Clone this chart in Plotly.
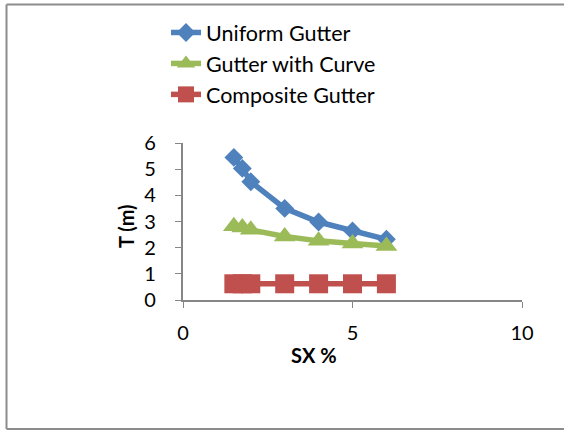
import plotly.graph_objects as go

sx = [1.5, 1.75, 2, 3, 4, 5, 6]
uniform = [5.45, 5.03, 4.52, 3.50, 2.98, 2.64, 2.32]
curve = [2.82, 2.77, 2.68, 2.43, 2.26, 2.16, 2.06]
composite = [0.62, 0.62, 0.62, 0.62, 0.62, 0.62, 0.62]

names = ["Uniform Gutter", "Gutter with Curve", "Composite Gutter"]
colors = ["#4F81BD", "#9BBB59", "#C0504D"]
symbols = ["diamond", "triangle-up", "square"]
sizes = [14.5, 19, 19]
series = [uniform, curve, composite]

FONT = "Lato, 'Open Sans', sans-serif"

fig = go.Figure()
for name, ys, c, s, sz in zip(names, series, colors, symbols, sizes):
    fig.add_trace(go.Scatter(
        x=sx, y=ys, name=name, mode="lines+markers",
        line=dict(color=c, width=5.5),
        marker=dict(symbol=s, size=sz, color=c),
    ))

W, H = 564, 430
L, R, T, B = 183, 42, 143, 130
pw = W - L - R
ph = H - T - B

def px(x):
    return (x - L) / pw

def py(y):
    return (H - B - y) / ph

axis_common = dict(
    showgrid=False, zeroline=False, showline=True, linecolor="#868686",
    linewidth=1.5, ticks="outside", ticklen=6, tickcolor="#868686",
    tickfont=dict(family=FONT, size=20, color="#000000"),
)

fig.update_xaxes(range=[0, 10], dtick=5, tick0=0, ticklabelstandoff=8, **axis_common)
fig.update_yaxes(range=[0, 6], dtick=1, tick0=0,
                 ticksuffix="\u00a0\u00a0\u00a0", **axis_common)

fig.add_annotation(text="<b>SX %</b>", xref="paper", yref="paper",
                   x=px(314), y=py(355), showarrow=False,
                   xanchor="center", yanchor="middle",
                   font=dict(family=FONT, size=20, color="#000000"))
fig.add_annotation(text="<b>T (m)</b>", xref="paper", yref="paper",
                   x=px(126), y=py(226), showarrow=False, textangle=-90,
                   xanchor="center", yanchor="middle",
                   font=dict(family=FONT, size=20, color="#000000"))

border = dict(color="#8C8C8C", width=2)
fig.add_shape(type="line", xref="paper", yref="paper", x0=px(6.5), x1=px(570), y0=py(4.5), y1=py(4.5), line=border)
fig.add_shape(type="line", xref="paper", yref="paper", x0=px(6.5), x1=px(6.5), y0=py(4.5), y1=py(429), line=border)
fig.add_shape(type="line", xref="paper", yref="paper", x0=px(6.5), x1=px(570), y0=py(429), y1=py(429), line=border)

fig.update_layout(
    width=W, height=H,
    margin=dict(l=L, r=R, t=T, b=B, pad=0),
    paper_bgcolor="white", plot_bgcolor="white",
    showlegend=True,
    legend=dict(x=px(166), y=py(12), xanchor="left", yanchor="top",
                font=dict(family=FONT, size=21.5, color="#000000"),
                bgcolor="rgba(0,0,0,0)", tracegroupgap=0),
)

fig.write_html("out.html")
